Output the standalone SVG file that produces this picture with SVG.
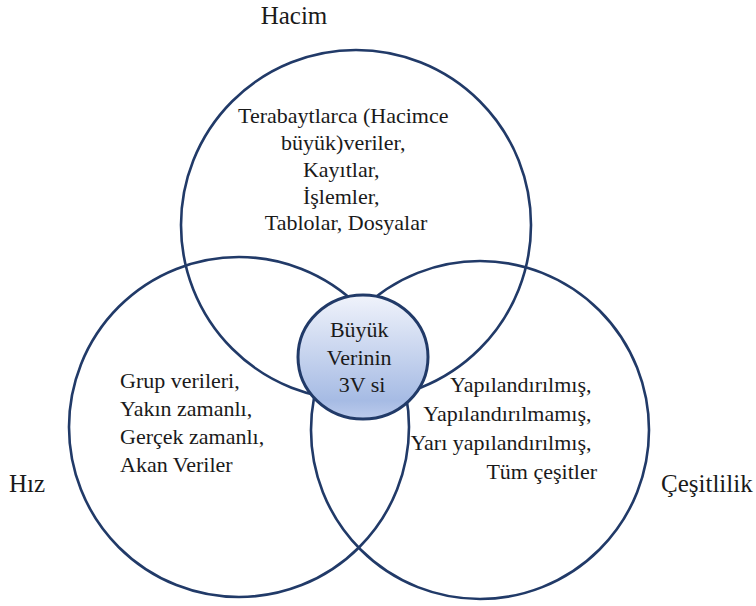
<svg xmlns="http://www.w3.org/2000/svg" width="756" height="606" viewBox="0 0 756 606">
  <defs>
    <linearGradient id="coreFill" x1="0" y1="0" x2="0" y2="1">
      <stop offset="0" stop-color="#f0f3fb"/>
      <stop offset="0.85" stop-color="#a6bbe4"/>
      <stop offset="1" stop-color="#bccbec"/>
    </linearGradient>
  </defs>
  <style>
    .ring { fill: none; stroke: #213a68; stroke-width: 2.6; }
    .core { fill: url(#coreFill); stroke: #213a68; stroke-width: 3; }
    .txt { font-family: "Liberation Serif", "DejaVu Serif", serif; font-size: 22px; fill: #1a1a1a; }
    .lbl { font-family: "Liberation Serif", "DejaVu Serif", serif; font-size: 25px; fill: #1a1a1a; }
  </style>

  <!-- Volume set -->
  <g id="hacim">
    <circle class="ring" cx="356" cy="225" r="175"/>
    <text class="lbl" x="294" y="24" text-anchor="middle">Hacim</text>
    <text class="txt" text-anchor="middle">
      <tspan x="346" y="123">Terabaytlarca (Hacimce</tspan>
      <tspan x="346" y="150">büyük)veriler,</tspan>
      <tspan x="344" y="177">Kayıtlar,</tspan>
      <tspan x="344" y="204">İşlemler,</tspan>
      <tspan x="346" y="230">Tablolar, Dosyalar</tspan>
    </text>
  </g>

  <!-- Velocity set -->
  <g id="hiz">
    <circle class="ring" cx="239" cy="427" r="170"/>
    <text class="lbl" x="9" y="492">Hız</text>
    <text class="txt">
      <tspan x="120" y="388">Grup verileri,</tspan>
      <tspan x="120" y="416">Yakın zamanlı,</tspan>
      <tspan x="120" y="444">Gerçek zamanlı,</tspan>
      <tspan x="120" y="472">Akan Veriler</tspan>
    </text>
  </g>

  <!-- Variety set -->
  <g id="cesitlilik">
    <circle class="ring" cx="480" cy="430" r="169"/>
    <text class="lbl" x="661" y="492">Çeşitlilik</text>
    <text class="txt" text-anchor="end">
      <tspan x="597" y="392">Yapılandırılmış,</tspan>
      <tspan x="597" y="421">Yapılandırılmamış,</tspan>
      <tspan x="597" y="450">Yarı yapılandırılmış,</tspan>
      <tspan x="597" y="479">Tüm çeşitler</tspan>
    </text>
  </g>

  <!-- Shared core -->
  <g id="merkez">
    <ellipse class="core" cx="363" cy="357" rx="65" ry="62"/>
    <text class="txt" text-anchor="middle">
      <tspan x="362" y="337">Büyük</tspan>
      <tspan x="362" y="365">Verinin</tspan>
      <tspan x="362" y="392">3V si</tspan>
    </text>
  </g>

  <g id="connectors"/>
</svg>
